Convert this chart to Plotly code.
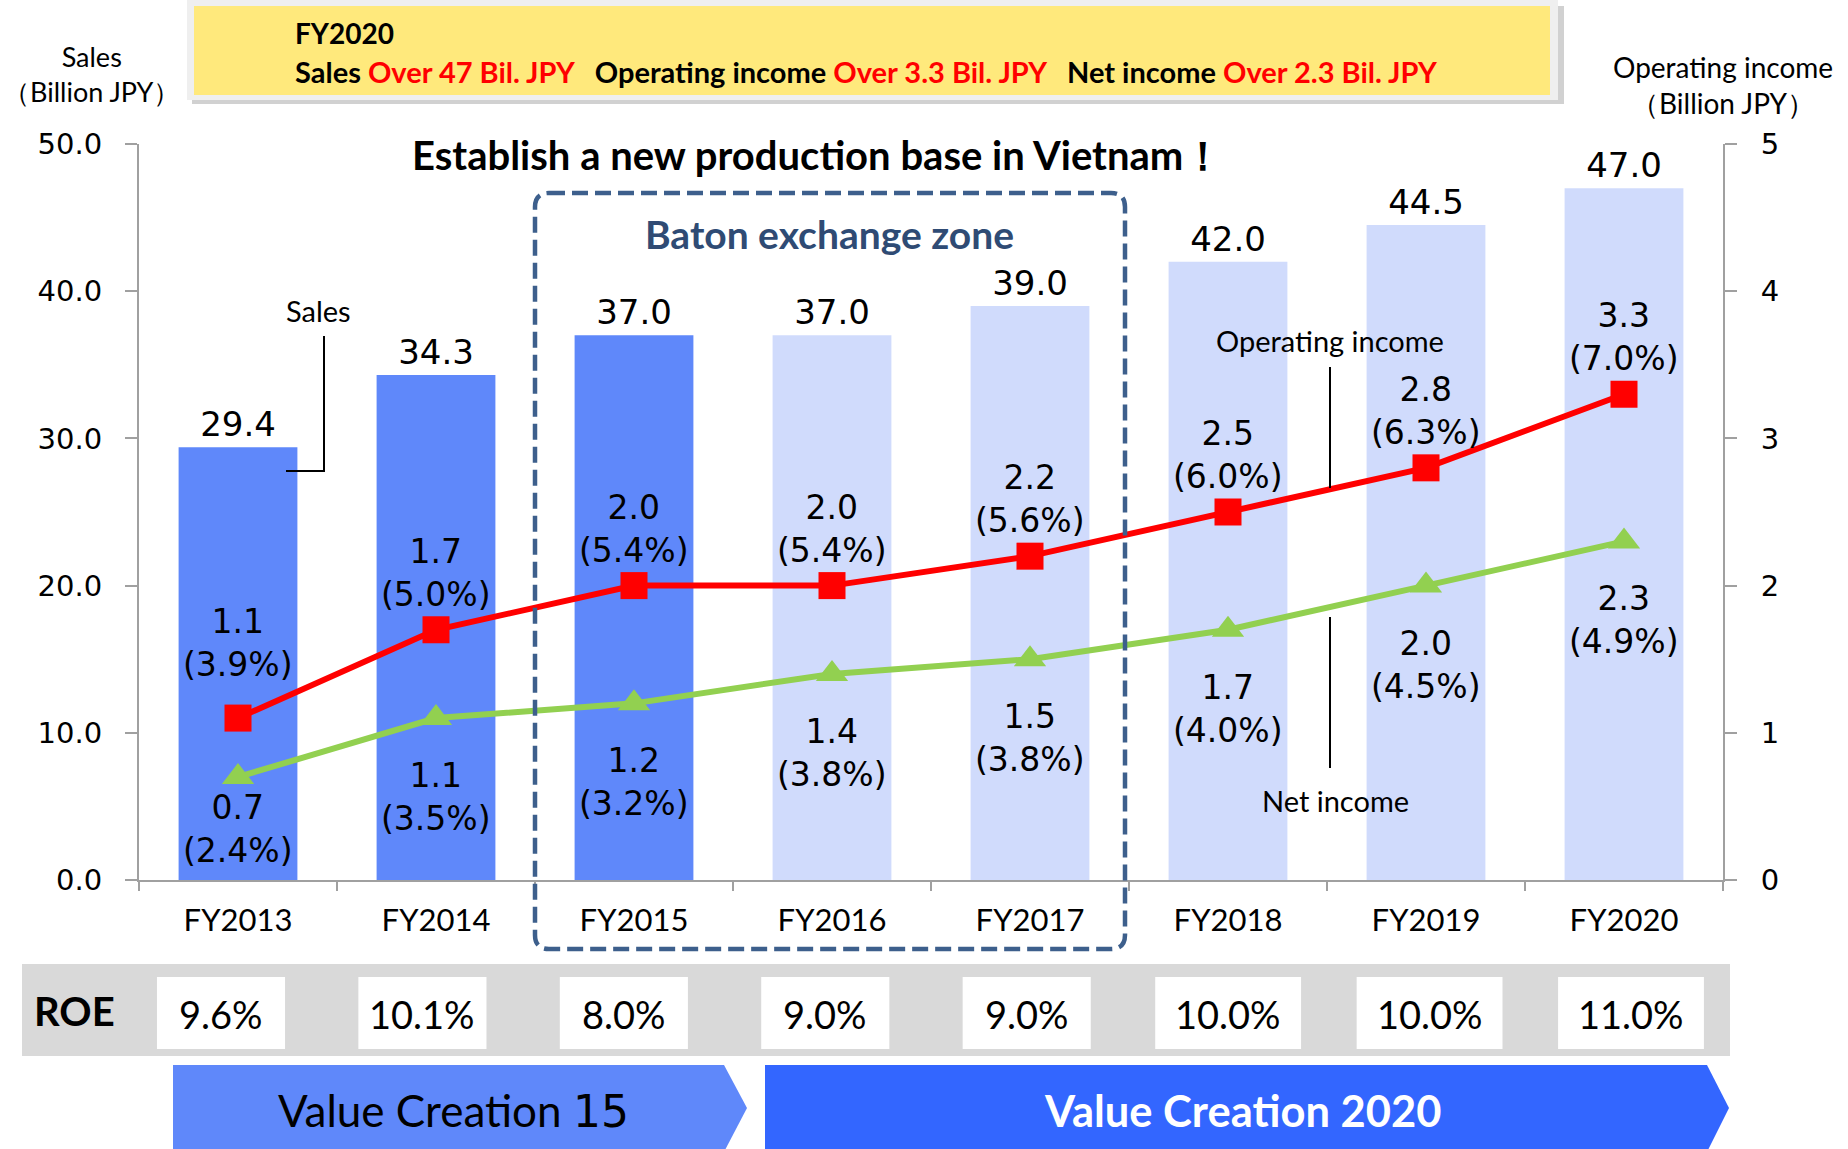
import plotly.graph_objects as go

# ---------------- data ----------------
categories = ["FY2013", "FY2014", "FY2015", "FY2016", "FY2017", "FY2018", "FY2019", "FY2020"]
sales = [29.4, 34.3, 37.0, 37.0, 39.0, 42.0, 44.5, 47.0]
operating_income = [1.1, 1.7, 2.0, 2.0, 2.2, 2.5, 2.8, 3.3]
operating_margin = [3.9, 5.0, 5.4, 5.4, 5.6, 6.0, 6.3, 7.0]
net_income = [0.7, 1.1, 1.2, 1.4, 1.5, 1.7, 2.0, 2.3]
net_margin = [2.4, 3.5, 3.2, 3.8, 3.8, 4.0, 4.5, 4.9]
roe = [9.6, 10.1, 8.0, 9.0, 9.0, 10.0, 10.0, 11.0]
actual_count = 3  # first three fiscal years are results, rest are plan
left_ticks = [0, 10, 20, 30, 40, 50]
right_ticks = [0, 1, 2, 3, 4, 5]

# ---------------- layout helpers ----------------
W, H = 1848, 1149
ML, MR, MT, MB = 139, 125, 144, 269
PW, PH = W - ML - MR, H - MT - MB
Y2_MAX = 5


def px(xp):
    return (xp - ML) / PW


def py(yp):
    return (H - MB - yp) / PH


NUM_FONT = "DejaVu Sans"
TXT_FONT = "Lato"
DARK_BAR = "#5F88FA"
LIGHT_BAR = "#D0DBFC"
RED = "#FF0000"
GREEN = "#92D050"
AXIS_GRAY = "#A0A0A0"

# label placement style (pixel offsets from the markers)
OI_LABEL_SHIFT = 57
OI_FIRST_LABEL_EXTRA = 18      # first label sits a bit higher in the original
NI_LABEL_SHIFT = 79
NI_LABEL_MIN_CLEARANCE = 51    # keep the lowest label block above the x axis

fig = go.Figure()

bar_colors = [DARK_BAR if i < actual_count else LIGHT_BAR for i in range(len(categories))]
fig.add_trace(go.Bar(
    x=categories, y=sales, width=0.6,
    marker=dict(color=bar_colors, line=dict(width=0)),
    text=[f"{v:.1f}" for v in sales], textposition="outside",
    textfont=dict(family=NUM_FONT, size=34, color="black"),
    cliponaxis=False, name="Sales",
))

fig.add_trace(go.Scatter(
    x=categories, y=operating_income, yaxis="y2", mode="lines+markers",
    line=dict(color=RED, width=6),
    marker=dict(symbol="square", size=27, color=RED),
    name="Operating income", cliponaxis=False,
))
fig.add_trace(go.Scatter(
    x=categories, y=net_income, yaxis="y2", mode="lines+markers",
    line=dict(color=GREEN, width=6),
    marker=dict(symbol="triangle-up", size=28, color=GREEN),
    name="Net income", cliponaxis=False,
))

annotations = []
shapes = []


def note(x, y, text, font, xanchor="center", yanchor="middle", **kw):
    d = dict(x=x, y=y, xref="paper", yref="paper", text=text, showarrow=False,
             xanchor=xanchor, yanchor=yanchor, font=font)
    d.update(kw)
    annotations.append(d)


# data labels for the lines
for i, c in enumerate(categories):
    oi_shift = OI_LABEL_SHIFT + (OI_FIRST_LABEL_EXTRA if i == 0 else 0)
    annotations.append(dict(
        x=c, y=operating_income[i], xref="x", yref="y2",
        text=f"{operating_income[i]:.1f}<br>({operating_margin[i]:.1f}%)",
        showarrow=False, xanchor="center", yanchor="middle", yshift=oi_shift,
        font=dict(family=NUM_FONT, size=33, color="black"),
    ))
    marker_px = net_income[i] / Y2_MAX * PH
    ni_shift = min(NI_LABEL_SHIFT, marker_px - NI_LABEL_MIN_CLEARANCE)
    annotations.append(dict(
        x=c, y=net_income[i], xref="x", yref="y2",
        text=f"{net_income[i]:.1f}<br>({net_margin[i]:.1f}%)",
        showarrow=False, xanchor="center", yanchor="middle", yshift=-ni_shift,
        font=dict(family=NUM_FONT, size=33, color="black"),
    ))

# ---------------- banner ----------------
shapes.append(dict(type="rect", xref="paper", yref="paper",
                   x0=px(192), x1=px(1564), y0=py(104), y1=py(6),
                   fillcolor="rgba(0,0,0,0.18)", line=dict(width=0), layer="above"))
shapes.append(dict(type="rect", xref="paper", yref="paper",
                   x0=px(187), x1=px(1558), y0=py(100), y1=py(0),
                   fillcolor="#EFEFEF", line=dict(width=0), layer="above"))
shapes.append(dict(type="rect", xref="paper", yref="paper",
                   x0=px(194), x1=px(1550), y0=py(95), y1=py(6),
                   fillcolor="#FFE97C", line=dict(width=0), layer="above"))
note(px(293), py(33), "<b>FY2020</b>", dict(family=TXT_FONT, size=28, color="black"), xanchor="left")
red = "<span style='color:#FF0000'>"
line2 = ("<b>Sales " + red + "Over 47 Bil. JPY</span>&nbsp;&nbsp;&nbsp;Operating income "
         + red + "Over 3.3 Bil. JPY</span>&nbsp;&nbsp;&nbsp;Net income " + red + "Over 2.3 Bil. JPY</span></b>")
note(px(293), py(71), line2, dict(family=TXT_FONT, size=29, color="black"), xanchor="left")

# axis titles
note(px(91), py(74), "Sales<br>（Billion JPY）", dict(family=TXT_FONT, size=27, color="black"))
note(px(1723), py(85), "Operating income<br>（Billion JPY）", dict(family=TXT_FONT, size=28, color="black"))

# title
note(px(817), py(155), "<b>Establish a new production base in Vietnam！</b>",
     dict(family=TXT_FONT, size=40, color="black"))

# baton exchange zone (rounded dashed box)
x0, x1, yt, yb = px(535), px(1125), py(193), py(949)
rx, ry = 14 / PW, 14 / PH
path = (f"M {x0+rx},{yt} L {x1-rx},{yt} Q {x1},{yt} {x1},{yt-ry} L {x1},{yb+ry} "
        f"Q {x1},{yb} {x1-rx},{yb} L {x0+rx},{yb} Q {x0},{yb} {x0},{yb+ry} "
        f"L {x0},{yt-ry} Q {x0},{yt} {x0+rx},{yt} Z")
shapes.append(dict(type="path", path=path, xref="paper", yref="paper",
                   line=dict(color="#3D5F8C", width=4.5, dash="16px,7px"), layer="above"))
note(px(829), py(234), "<b>Baton exchange zone</b>", dict(family=TXT_FONT, size=39, color="#2F4B74"))

# callouts
callout_font = dict(family=TXT_FONT, size=29, color="black")
note(px(318), py(310), "Sales", callout_font)
shapes.append(dict(type="path", xref="paper", yref="paper",
                   path=f"M {px(324)},{py(336)} L {px(324)},{py(471)} L {px(286)},{py(471)}",
                   line=dict(color="black", width=2), layer="above"))
note(px(1330), py(340), "Operating income", callout_font)
shapes.append(dict(type="line", xref="paper", yref="paper",
                   x0=px(1330), x1=px(1330), y0=py(367), y1=py(488),
                   line=dict(color="black", width=2), layer="above"))
note(px(1335), py(800), "Net income", callout_font)
shapes.append(dict(type="line", xref="paper", yref="paper",
                   x0=px(1330), x1=px(1330), y0=py(617), y1=py(768),
                   line=dict(color="black", width=2), layer="above"))

# ---------------- ROE row ----------------
shapes.append(dict(type="rect", xref="paper", yref="paper",
                   x0=px(22), x1=px(1730), y0=py(1056), y1=py(964),
                   fillcolor="#D9D9D9", line=dict(width=0), layer="above"))
note(px(74), py(1011), "<b>ROE</b>", dict(family=TXT_FONT, size=40, color="black"))
for i, c in enumerate(categories):
    half = 0.318 if i < 5 else 0.362
    shapes.append(dict(type="rect", xref="x3", yref="paper",
                       x0=i - half, x1=i + half, y0=py(1049), y1=py(977),
                       fillcolor="white", line=dict(width=0), layer="above"))
    annotations.append(dict(x=i, y=py(1014), xref="x3", yref="paper", showarrow=False,
                            xanchor="center", yanchor="middle",
                            text=f"{roe[i]:.1f}%",
                            font=dict(family=TXT_FONT, size=38, color="black")))

# ---------------- Value creation arrows ----------------
def arrow(xl, xr, xt, yt_, yb_, ym):
    return (f"M {px(xl)},{py(yt_)} L {px(xr)},{py(yt_)} L {px(xt)},{py(ym)} "
            f"L {px(xr)},{py(yb_)} L {px(xl)},{py(yb_)} Z")

shapes.append(dict(type="path", xref="paper", yref="paper",
                   path=arrow(173, 724, 747, 1065, 1152, 1108),
                   fillcolor="#5F88FA", line=dict(width=0), layer="above"))
shapes.append(dict(type="path", xref="paper", yref="paper",
                   path=arrow(765, 1707, 1729, 1065, 1152, 1108),
                   fillcolor="#3366FF", line=dict(width=0), layer="above"))
note(px(453), py(1110), "Value Creation <span style='font-family:DejaVu Sans'>15</span>",
     dict(family=TXT_FONT, size=44, color="black"))
note(px(1242), py(1110), "<b>Value Creation 2020</b>", dict(family=TXT_FONT, size=43.5, color="white"))

fig.update_layout(
    width=W, height=H, autosize=False,
    margin=dict(l=ML, r=MR, t=MT, b=MB, pad=0),
    paper_bgcolor="white", plot_bgcolor="white",
    showlegend=False, bargap=0.4,
    xaxis=dict(
        type="category", categoryorder="array", categoryarray=categories,
        showline=True, linecolor=AXIS_GRAY, linewidth=2,
        ticks="outside", tickson="boundaries", ticklen=9, tickcolor=AXIS_GRAY, tickwidth=2,
        tickfont=dict(family=TXT_FONT, size=31, color="black"),
        ticklabelstandoff=12, showgrid=False, zeroline=False, range=[-0.5, 7.5],
    ),
    xaxis3=dict(
        overlaying="x", range=[-(221 - ML) / 201.43, 7 + (ML + PW - 1631) / 201.43],
        visible=False, showgrid=False, zeroline=False,
    ),
    yaxis=dict(
        range=[0, 50], tickvals=left_ticks, tickformat=".1f",
        showline=True, linecolor=AXIS_GRAY, linewidth=2,
        ticks="outside", ticklen=12, tickcolor=AXIS_GRAY, tickwidth=2,
        tickfont=dict(family=NUM_FONT, size=29, color="black"),
        ticklabelstandoff=17, showgrid=False, zeroline=False,
    ),
    yaxis2=dict(
        range=[0, Y2_MAX], tickvals=right_ticks, overlaying="y", side="right",
        showline=True, linecolor=AXIS_GRAY, linewidth=2,
        ticks="outside", ticklen=12, tickcolor=AXIS_GRAY, tickwidth=2,
        tickfont=dict(family=NUM_FONT, size=29, color="black"),
        ticklabelstandoff=18, showgrid=False, zeroline=False,
    ),
    annotations=annotations, shapes=shapes,
)

fig.write_html("out.html", config={"displayModeBar": False},
               post_script="document.body.style.margin='0';")
